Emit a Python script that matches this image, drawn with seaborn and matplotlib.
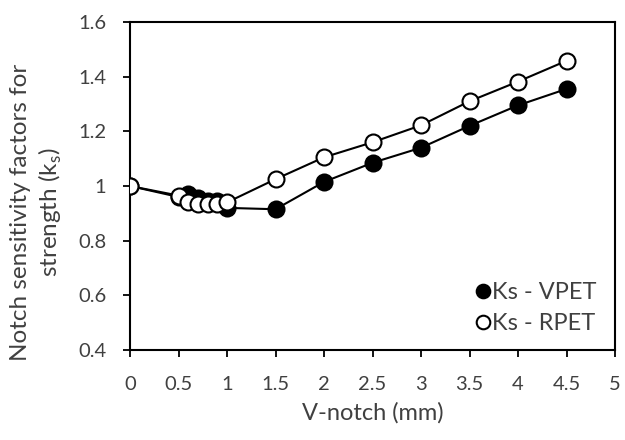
import numpy as np
import pandas as pd
import seaborn as sns
import matplotlib.pyplot as plt

notch = [0, 0.5, 0.6, 0.7, 0.8, 0.9, 1.0, 1.5, 2.0, 2.5, 3.0, 3.5, 4.0, 4.5]
ks_vpet = [1.00, 0.96, 0.97, 0.955, 0.945, 0.945, 0.92, 0.915, 1.015, 1.085, 1.14, 1.22, 1.295, 1.355]
ks_rpet = [1.00, 0.965, 0.94, 0.935, 0.935, 0.935, 0.94, 1.025, 1.105, 1.16, 1.222, 1.31, 1.382, 1.458]

df = pd.DataFrame({"notch": notch * 2,
                   "ks": ks_vpet + ks_rpet,
                   "series": ["Ks - VPET"] * len(notch) + ["Ks - RPET"] * len(notch)})

sns.set_theme(style="ticks")
plt.rcParams["font.family"] = ["Lato", "DejaVu Sans"]
txt = "#404040"

fig = plt.figure(figsize=(6.25, 4.4), dpi=100)
ax = fig.add_axes([0.208, 0.2045, 0.776, 0.7455])

for name, fc in [("Ks - VPET", "black"), ("Ks - RPET", "white")]:
    sns.lineplot(data=df[df.series == name], x="notch", y="ks", ax=ax,
                 color="black", lw=1.5, marker="o", markersize=11.5,
                 markerfacecolor=fc, markeredgecolor="black", markeredgewidth=1.5,
                 label=name, zorder=3 if fc == "white" else 2)

ax.set_xlim(0, 5)
ax.set_ylim(0.4, 1.6)
ax.set_xticks(np.arange(0, 5.01, 0.5))
ax.set_xticklabels(["0", "0.5", "1", "1.5", "2", "2.5", "3", "3.5", "4", "4.5", "5"])
ax.set_yticks(np.arange(0.4, 1.61, 0.2))
ax.set_yticklabels(["0.4", "0.6", "0.8", "1", "1.2", "1.4", "1.6"])
ax.tick_params(direction="out", length=5, width=1.3, colors="black",
               labelcolor=txt, labelsize=14.5)
ax.tick_params(axis="x", pad=14)
ax.tick_params(axis="y", pad=12)
for s in ax.spines.values():
    s.set_linewidth(1.5)
    s.set_color("black")
    s.set_visible(True)

ax.set_xlabel("V-notch (mm)", fontsize=17, color=txt, labelpad=6)
ax.set_ylabel("Notch sensitivity factors for\nstrength (k$_\\mathregular{s}$)",
              fontsize=17.5, color=txt, linespacing=1.27)
ax.yaxis.set_label_coords(-0.136, 0.42)

leg = ax.legend(loc="lower right", frameon=False, fontsize=17, handlelength=0,
                handletextpad=0.35, labelspacing=0.45, borderaxespad=0.4,
                markerscale=0.85, bbox_to_anchor=(1.0, -0.01))
for t in leg.get_texts():
    t.set_color(txt)

fig.savefig("out.png", dpi=100)
